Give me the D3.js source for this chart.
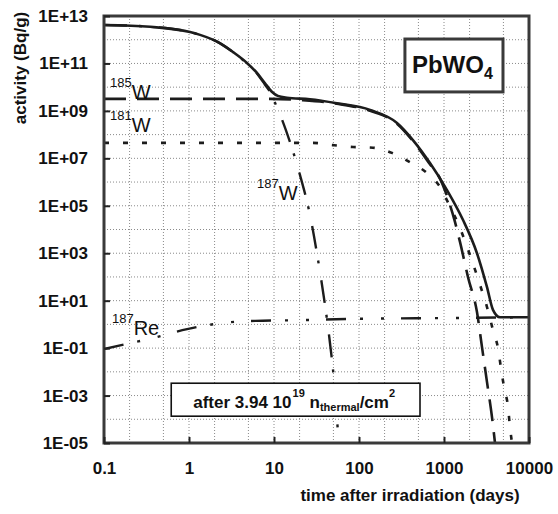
<!DOCTYPE html>
<html>
<head>
<meta charset="utf-8">
<script src="https://cdn.jsdelivr.net/npm/d3@7"></script>
<style>
  html, body { margin: 0; padding: 0; background: #fff; }
  text { font-family: "Liberation Sans", Arial, sans-serif; fill: #111; }
</style>
</head>
<body>
<svg id="chart" width="558" height="514"></svg>
<script>
// ---- data (days, Bq/g) ----
const totalDays = [0.1, 0.35, 1.03, 1.35, 2.3, 3.3, 4.8, 6.3, 7.8, 9.5, 11.1, 14.2, 26.5, 55, 135, 280, 431, 684, 1084, 1675, 2443, 3206, 3767, 4560, 10000];
const totalAct  = [4.2e12, 3.5e12, 2.1e12, 1.6e12, 7.2e11, 3.0e11, 1.05e11, 4.0e10, 1.5e10, 6.3e9, 4.3e9, 3.6e9, 3.1e9, 2.1e9, 1.1e9, 3.1e8, 5.9e7, 6.3e6, 4.6e5, 2.5e4, 1.0e3, 37, 4.1, 2.0, 2.0];

const w185Days = [0.1, 9.0, 21.9, 55, 135, 280, 431, 684, 897, 1084, 1346, 1542, 1914, 2443, 2800, 3206, 3673, 3981];
const w185Act  = [3.2e9, 3.2e9, 2.8e9, 2.0e9, 1.0e9, 2.9e8, 5.4e7, 5.6e6, 1.4e6, 2.6e5, 2.1e4, 3.0e3, 100, 3.3, 0.11, 3.7e-3, 1.2e-4, 1e-5];

const w181Days = [0.1, 28.8, 49, 85, 146, 244, 398, 631, 897, 1114, 1542, 2023, 2655, 3206, 3767, 4315, 4688, 5082, 5664, 5973, 6310];
const w181Act  = [4.5e7, 4.5e7, 3.6e7, 3.0e7, 2.8e7, 1.7e7, 6.9e6, 2.4e6, 6.2e5, 1.4e5, 1.15e4, 830, 46, 5.4, 0.58, 0.1, 0.014, 2.3e-3, 3.3e-4, 4.7e-5, 1e-5];

const w187Days = [0.1, 0.35, 1.03, 1.35, 2.3, 3.3, 4.8, 6.3, 7.8, 9.5, 10.8, 11.8, 15.4, 20.2, 26.5, 33, 39.8, 45.6, 50.8, 56.6, 58];
const w187Act  = [4.2e12, 3.5e12, 2.1e12, 1.6e12, 7.2e11, 3.0e11, 1.0e11, 3.8e10, 1.3e10, 4.5e9, 1.4e9, 6.8e8, 4.9e7, 2.0e6, 4.1e4, 510, 6.6, 0.16, 4.5e-3, 2.9e-5, 1e-5];

const re187Days = [0.1, 0.2, 0.37, 0.95, 2.5, 6.0, 18.6, 83, 1084, 10000];
const re187Act  = [0.091, 0.16, 0.26, 0.63, 1.15, 1.4, 1.5, 1.7, 1.85, 2.0];

const xTickValues = [0.1, 1, 10, 100, 1000, 10000];
const xTickLabels = ["0.1", "1", "10", "100", "1000", "10000"];
const yTickValues = [1e13, 1e11, 1e9, 1e7, 1e5, 1e3, 1e1, 1e-1, 1e-3, 1e-5];
const yTickLabels = ["1E+13", "1E+11", "1E+09", "1E+07", "1E+05", "1E+03", "1E+01", "1E-01", "1E-03", "1E-05"];

// ---- layout ----
const W = 558, H = 514;
const m = { left: 104, top: 16, right: 29, bottom: 71 };
const pw = W - m.left - m.right, ph = H - m.top - m.bottom;

const svg = d3.select("#chart");
const g = svg.append("g").attr("transform", `translate(${m.left},${m.top})`);

const x = d3.scaleLog().domain([0.1, 10000]).range([0, pw]);
const y = d3.scaleLog().domain([1e-5, 1e13]).range([ph, 0]);

svg.append("defs").append("clipPath").attr("id", "clip")
  .append("rect").attr("width", pw).attr("height", ph);

// ---- grid ----
const grid = g.append("g").attr("class", "grid");
const vGrid = [];
for (let e = -1; e <= 3; e++) {
  [1, 2, 5].forEach(k => { const v = k * Math.pow(10, e); if (v > 0.1 && v < 10000) vGrid.push(v); });
}
grid.selectAll("line.v").data(vGrid).join("line")
  .attr("x1", d => x(d)).attr("x2", d => x(d)).attr("y1", 0).attr("y2", ph)
  .attr("stroke", "#8a8a8a").attr("stroke-width", 1).attr("stroke-dasharray", "1,2");
const hGrid = [];
for (let e = -4; e <= 12; e++) hGrid.push(Math.pow(10, e));
grid.selectAll("line.h").data(hGrid).join("line")
  .attr("x1", 0).attr("x2", pw).attr("y1", d => y(d)).attr("y2", d => y(d))
  .attr("stroke", "#8a8a8a").attr("stroke-width", 1).attr("stroke-dasharray", "1,2");

// ---- series ----
const zip = (ds, as) => ds.map((d, i) => [d, as[i]]);
const line = d3.line().x(d => x(d[0])).y(d => y(d[1])).curve(d3.curveMonotoneX);
const series = [
  { data: zip(w185Days, w185Act), dash: "22,11", w: 2.6 },
  { data: zip(w181Days, w181Act), dash: "5,14", w: 2.6 },
  { data: zip(w187Days, w187Act), dash: "23,12,3,17", w: 2.4 },
  { data: zip(re187Days, re187Act), dash: "20,14,3,18,3,17", w: 2.4 },
  { data: zip(totalDays, totalAct), dash: null, w: 2.6 }
];
const lines = g.append("g").attr("clip-path", "url(#clip)");
series.forEach(s => {
  lines.append("path").datum(s.data)
    .attr("d", line)
    .attr("fill", "none")
    .attr("stroke", "#1c1c1c")
    .attr("stroke-width", s.w)
    .attr("stroke-dasharray", s.dash);
});

// ---- isotope labels ----
const isoLabels = [
  { sup: "185", main: "W", t: 0.118, a: 3.2e9 },
  { sup: "181", main: "W", t: 0.118, a: 1.3e8 },
  { sup: "187", main: "W", t: 6.3, a: 1.7e5 },
  { sup: "187", main: "Re", t: 0.124, a: 0.35 }
];
isoLabels.forEach(l => {
  const t = g.append("text").attr("x", x(l.t)).attr("y", y(l.a));
  t.append("tspan").attr("font-size", 13).attr("dy", -12).text(l.sup);
  t.append("tspan").attr("font-size", 20).attr("dy", 12).text(l.main);
});

// ---- PbWO4 box ----
const bx0 = x(347), bx1 = x(4943), by0 = y(1.07e12), by1 = y(6.3e9);
g.append("rect").attr("x", bx0).attr("y", by0).attr("width", bx1 - bx0).attr("height", by1 - by0)
  .attr("fill", "#fff").attr("stroke", "#3a3a3a").attr("stroke-width", 3);
const pb = g.append("text").attr("x", bx0 + 7).attr("y", by0 + 34).attr("font-weight", "bold");
pb.append("tspan").attr("font-size", 24).text("PbWO");
pb.append("tspan").attr("font-size", 16).attr("dy", 6).text("4");

// ---- fluence box ----
const fx0 = x(0.618), fx1 = x(1000 * Math.pow(10, -24 / 85)), fy0 = y(Math.pow(10, -2.48)), fy1 = y(Math.pow(10, -3.87));
g.append("rect").attr("x", fx0).attr("y", fy0).attr("width", fx1 - fx0).attr("height", fy1 - fy0)
  .attr("fill", "#fff").attr("stroke", "#111").attr("stroke-width", 1.6);
const ft = g.append("text").attr("x", fx0 + 22).attr("y", fy0 + 25).attr("font-weight", "bold").attr("font-size", 17);
ft.append("tspan").text("after 3.94 10");
ft.append("tspan").attr("font-size", 11).attr("dy", -11).attr("dx", 1).text("19");
ft.append("tspan").attr("dy", 11).text(" n");
ft.append("tspan").attr("font-size", 11).attr("dy", 3).text("thermal");
ft.append("tspan").attr("dy", -3).text("/cm");
ft.append("tspan").attr("font-size", 11).attr("dy", -11).text("2");

// ---- frame ----
g.append("rect").attr("width", pw).attr("height", ph)
  .attr("fill", "none").attr("stroke", "#3a3a3a").attr("stroke-width", 3);

// ---- axes ----
const yAxis = d3.axisLeft(y).tickValues(yTickValues)
  .tickFormat((d, i) => yTickLabels[i]).tickSizeInner(-6).tickSizeOuter(0).tickPadding(16);
const ya = g.append("g").call(yAxis);
ya.select(".domain").remove();
ya.selectAll(".tick line").attr("stroke", "#222").attr("stroke-width", 2);
ya.selectAll(".tick text").attr("font-size", 17).attr("font-weight", "bold")
  .attr("font-family", "'Liberation Sans', Arial, sans-serif").attr("fill", "#111");

const xAxis = d3.axisBottom(x).tickValues(xTickValues)
  .tickFormat((d, i) => xTickLabels[i]).tickSizeInner(-6).tickSizeOuter(0).tickPadding(19);
const xa = g.append("g").attr("transform", `translate(0,${ph})`).call(xAxis);
xa.select(".domain").remove();
xa.selectAll(".tick line").attr("stroke", "#222").attr("stroke-width", 2);
xa.selectAll(".tick text").attr("font-size", 17).attr("font-weight", "bold")
  .attr("font-family", "'Liberation Sans', Arial, sans-serif").attr("fill", "#111");

// ---- axis titles ----
svg.append("text").attr("transform", "translate(26,68) rotate(-90)")
  .attr("text-anchor", "middle").attr("font-size", 17).attr("font-weight", "bold")
  .text("activity (Bq/g)");
svg.append("text").attr("x", 410).attr("y", 501)
  .attr("text-anchor", "middle").attr("font-size", 17).attr("font-weight", "bold")
  .text("time after irradiation (days)");
</script>
</body>
</html>
